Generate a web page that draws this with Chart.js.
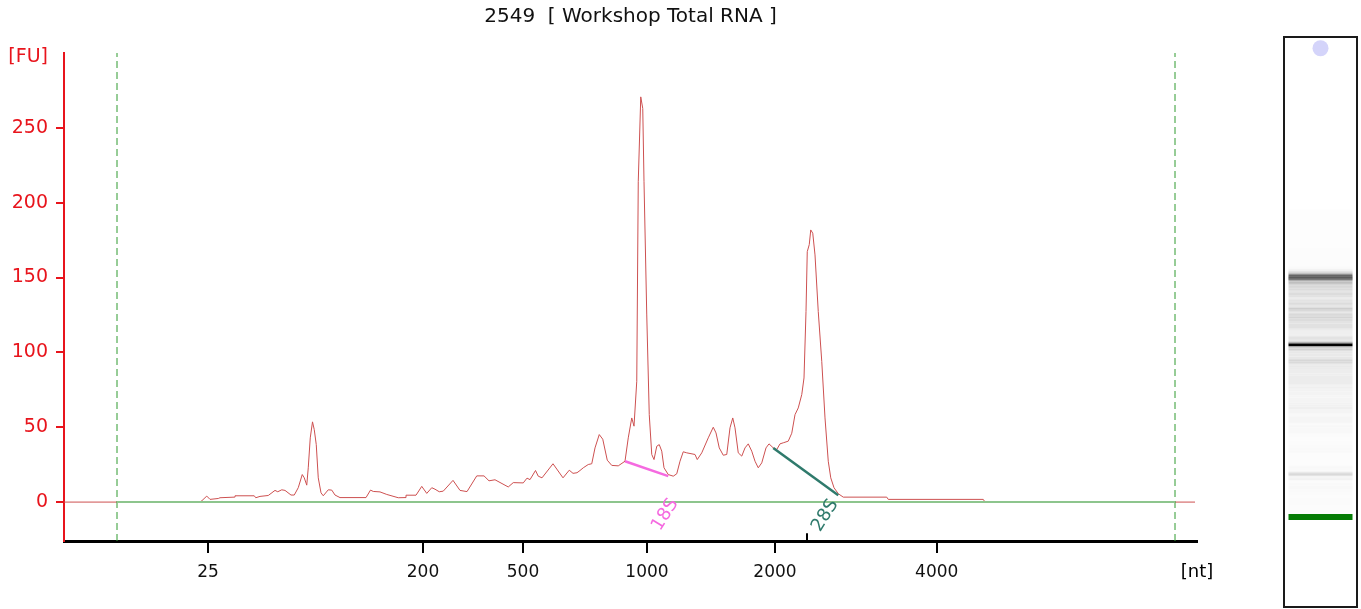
<!DOCTYPE html>
<html>
<head>
<meta charset="utf-8">
<script src="https://cdn.jsdelivr.net/npm/chart.js@4.4.1/dist/chart.umd.min.js"></script>
<style>
  html, body { margin: 0; padding: 0; background: #fff; }
  #main { position: absolute; left: 0; top: 0; }
  #gelBox { position: absolute; left: 1283px; top: 36px; width: 71px; height: 568px; border: 2px solid #1a1a1a; background: #fff; }
  #gel { display: block; }
</style>
</head>
<body>
<canvas id="main" width="1270" height="609"></canvas>
<div id="gelBox"><canvas id="gel" width="71" height="568"></canvas></div>
<script>
// ---------- data (migration time in s, fluorescence in FU) ----------
const chartTitle = '2549  [ Workshop Total RNA ]';
const traceTime = [17.00,22.44,22.52,22.71,22.84,23.17,23.24,23.81,23.84,24.61,24.67,24.84,25.17,25.44,25.55,25.71,25.84,26.08,26.21,26.37,26.53,26.61,26.71,26.77,26.85,26.94,27.01,27.09,27.17,27.28,27.37,27.57,27.71,27.84,28.04,29.08,29.26,29.37,29.64,29.91,30.37,30.64,30.68,31.08,31.31,31.51,31.71,31.84,32.01,32.17,32.56,32.84,33.12,33.51,33.80,34.00,34.24,34.77,34.97,35.37,35.52,35.64,35.86,35.97,36.12,36.56,36.96,37.21,37.36,37.52,37.64,37.77,37.97,38.11,38.24,38.41,38.55,38.73,38.91,39.17,39.44,39.57,39.71,39.80,39.91,39.97,40.07,40.15,40.20,40.31,40.41,40.51,40.60,40.71,40.81,40.91,41.00,41.17,41.37,41.51,41.64,41.77,41.91,42.24,42.33,42.51,42.77,42.97,43.08,43.21,43.37,43.51,43.64,43.75,43.84,43.97,44.11,44.24,44.37,44.51,44.64,44.77,44.91,45.08,45.20,45.37,45.51,45.64,45.77,45.97,46.11,46.24,46.37,46.51,46.60,46.68,46.73,46.81,46.87,46.95,47.04,47.17,47.31,47.44,47.57,47.67,47.80,47.97,48.17,49.91,49.97,53.77,53.84,62.24];
const traceFU   = [0,0,1.0,4.0,1.8,2.4,2.9,3.3,4.2,4.2,2.9,3.8,4.4,7.8,6.9,8.2,7.8,4.7,4.7,9.6,18.4,16.2,11.3,22.9,42.9,53.6,48.4,38.4,16.2,6.2,4.2,8.2,8.0,4.7,3.0,3.0,8.0,7.1,6.8,5.1,2.9,3.0,4.6,4.6,10.5,5.8,9.6,8.6,6.9,7.3,14.5,7.8,7.0,17.5,17.5,14.2,14.9,10.1,13.0,12.8,16.0,15.0,21.1,17.3,16.2,25.6,16.2,21.3,19.2,19.6,21.1,22.9,25.1,25.6,36.2,45.1,42.0,28.0,24.5,24.2,27.3,42.9,56.2,50.7,80.7,214,270.7,262.9,214,125,58.4,31.8,28.4,37.3,38.4,34.0,22.9,18.4,17.3,18.9,27.3,33.6,32.9,31.8,28.4,32.9,42.9,50.0,46.2,36.2,31.3,31.8,49.6,56.2,49.6,32.9,30.7,36.2,38.9,34.0,27.3,22.9,26.2,36.2,38.9,36.2,35.1,38.9,39.6,40.7,46.0,58.4,62.9,71.8,82.9,127.3,167.3,172,181.8,179.6,165.1,127.3,94,56.2,27.3,16.2,9.6,5.6,3.3,3.3,1.8,1.8,0,0];

const xTickPos    = [22.76, 31.36, 35.36, 40.32, 45.44, 51.91];
const xTickLabels = ['25', '200', '500', '1000', '2000', '4000'];
const yTickValues = [0, 50, 100, 150, 200, 250];
const markerLines = [19.12, 61.44];          // dashed alignment markers
const baselineRange = [19.12, 61.44];        // green baseline span
const rRNANames   = ['18S', '28S'];
const rRNAStartT  = [39.44, 45.37];
const rRNAStartFU = [27.3, 36.2];
const rRNAEndT    = [41.17, 47.97];
const rRNAEndFU   = [17.3, 4.5];
const rRNALabelT  = [41.05, 47.45];
const rRNALabelFU = [-8.5, -9.0];
const sizeMarkTick = 46.72;                  // short tick above x axis
const gelUpperMarkerT = 70.2;
const gelLowerMarkerT = [22.3, 22.9];

// ---------- styling ----------
const FONT = "'DejaVu Sans', Verdana, sans-serif";
const RED = '#e8141c';
const X_MIN = 17, X_MAX = 62.32, Y_MIN = -26, Y_MAX = 300;
const rRNAColors = ['#f56ae0', '#2f7a6c'];

const tracePts = traceTime.map((t, i) => ({ x: t, y: traceFU[i] }));

const datasets = [];
datasets.push({ data: tracePts, borderColor: '#cd5050', borderWidth: 1, order: 5 });
datasets.push({ data: [{ x: baselineRange[0], y: 0 }, { x: baselineRange[1], y: 0 }], borderColor: '#8dc58d', borderWidth: 2, order: 3 });
markerLines.forEach(t => datasets.push({ data: [{ x: t, y: Y_MIN }, { x: t, y: Y_MAX }], borderColor: '#2f9a2f', borderWidth: 1, borderDash: [7, 4], order: 4 }));
rRNANames.forEach((n, i) => datasets.push({ data: [{ x: rRNAStartT[i], y: rRNAStartFU[i] }, { x: rRNAEndT[i], y: rRNAEndFU[i] }], borderColor: rRNAColors[i], borderWidth: 2.5, order: 1 }));
datasets.push({ data: [{ x: sizeMarkTick, y: Y_MIN }, { x: sizeMarkTick, y: -20.8 }], borderColor: '#000', borderWidth: 2, order: 0 });
datasets.forEach(d => { d.showLine = true; d.pointRadius = 0; d.tension = 0; d.fill = false; });

const textPlugin = {
  id: 'texts',
  afterDraw(chart) {
    const { ctx, chartArea, scales } = chart;
    ctx.save();
    ctx.font = '19px ' + FONT;
    ctx.fillStyle = RED;
    ctx.textAlign = 'right';
    ctx.textBaseline = 'middle';
    ctx.fillText('[FU]', chartArea.left - 16, chartArea.top + 4);
    ctx.font = '18px ' + FONT;
    ctx.fillStyle = '#000';
    ctx.textAlign = 'center';
    ctx.fillText('[nt]', chartArea.right, 572);
    rRNANames.forEach((n, i) => {
      const px = scales.x.getPixelForValue(rRNALabelT[i]);
      const py = scales.y.getPixelForValue(rRNALabelFU[i]);
      ctx.save();
      ctx.translate(px, py);
      ctx.rotate(-58 * Math.PI / 180);
      ctx.fillStyle = rRNAColors[i];
      ctx.textAlign = 'center';
      ctx.textBaseline = 'middle';
      ctx.fillText(n, 0, 0);
      ctx.restore();
    });
    ctx.restore();
  }
};

new Chart(document.getElementById('main'), {
  type: 'scatter',
  data: { datasets },
  options: {
    responsive: false, animation: false, devicePixelRatio: 1,
    layout: { padding: { left: 0, right: 73, top: 0, bottom: 0 }, autoPadding: false },
    plugins: {
      legend: { display: false }, tooltip: { enabled: false },
      title: { display: true, fullSize: false, text: chartTitle, color: '#111', font: { family: FONT, size: 20, weight: 'normal' }, padding: { top: 5, bottom: 24 } }
    },
    scales: {
      x: {
        type: 'linear', min: X_MIN, max: X_MAX,
        afterFit: s => { s.height = 68; },
        afterBuildTicks: s => { s.ticks = xTickPos.map(v => ({ value: v })); },
        ticks: { callback: (v, i) => xTickLabels[i], color: '#111', font: { family: FONT, size: 17 }, padding: 9, maxRotation: 0, autoSkip: false },
        grid: { drawOnChartArea: false, color: '#000', lineWidth: 2, tickLength: 12 },
        border: { color: '#000', width: 3 }
      },
      y: {
        type: 'linear', min: Y_MIN, max: Y_MAX,
        afterFit: s => { s.width = 64; },
        afterBuildTicks: s => { s.ticks = yTickValues.map(v => ({ value: v })); },
        ticks: { callback: v => String(v), color: RED, font: { family: FONT, size: 19 }, padding: 8, autoSkip: false },
        grid: { drawOnChartArea: false, color: RED, lineWidth: 2, tickLength: 8 },
        border: { color: RED, width: 2 }
      }
    }
  },
  plugins: [textPlugin]
});

// ---------- gel lane (same trace, migration time vertical) ----------
function gelShade(fu) {
  const f = Math.max(0, Math.min(1, fu / 200));
  const g = Math.round(255 * Math.pow(1 - f, 0.7));
  return `rgb(${g},${g},${g})`;
}
const gelPts = traceTime.map((t, i) => ({ x: 0.5, y: t, fu: traceFU[i] }));
new Chart(document.getElementById('gel'), {
  type: 'scatter',
  data: {
    datasets: [
      { data: [{ x: 0.5, y: gelUpperMarkerT }], pointRadius: 8, backgroundColor: '#d4d4fa', borderWidth: 0, order: 0 },
      { data: [{ x: 0.5, y: gelLowerMarkerT[0] }, { x: 0.5, y: gelLowerMarkerT[1] }], showLine: true, pointRadius: 0, borderColor: '#067d06', borderWidth: 64, borderCapStyle: 'butt', order: 1 },
      { data: gelPts, showLine: true, pointRadius: 0, borderWidth: 64, borderCapStyle: 'butt', borderJoinStyle: 'miter',
        segment: { borderColor: c => gelShade((c.p0.raw.fu + c.p1.raw.fu) / 2) }, borderColor: '#fff', order: 2 }
    ]
  },
  options: {
    responsive: false, animation: false, devicePixelRatio: 1,
    layout: { padding: 0, autoPadding: false },
    plugins: { legend: { display: false }, tooltip: { enabled: false } },
    scales: {
      x: { type: 'linear', min: 0, max: 1, display: false },
      y: { type: 'linear', min: 13.57, max: 71.24, display: false }
    }
  }
});
</script>
</body>
</html>
